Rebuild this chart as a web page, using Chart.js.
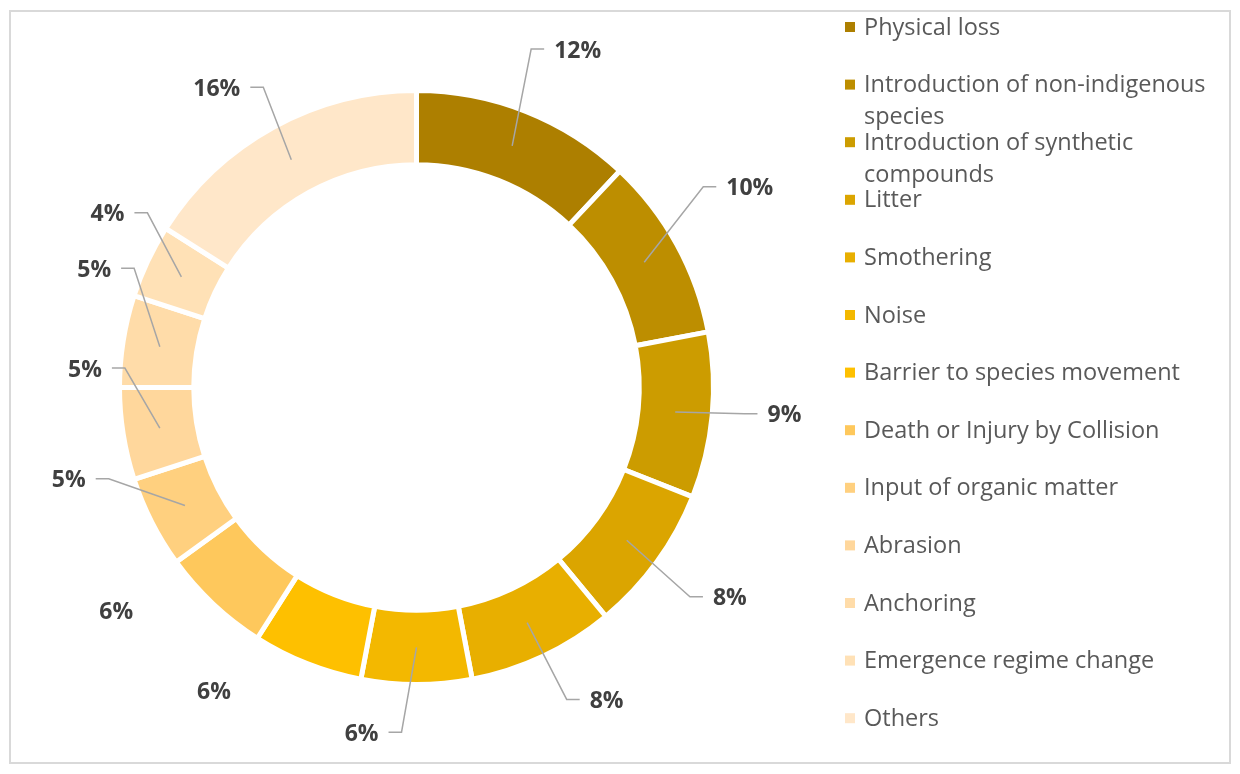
<!DOCTYPE html>
<html>
<head>
<meta charset="utf-8">
<script src="https://cdn.jsdelivr.net/npm/chart.js@4.4.1/dist/chart.umd.min.js"></script>
<style>
  html,body{margin:0;padding:0;background:#fff;}
  #wrap{position:relative;width:1240px;height:774px;}
  #frame{position:absolute;left:9px;top:10px;width:1218px;height:750px;border:2px solid #d9d9d9;}
  canvas{position:absolute;left:0;top:0;}
</style>
</head>
<body>
<div id="wrap">
  <div id="frame"></div>
  <canvas id="chart" width="1240" height="774"></canvas>
</div>
<script>
const labels = [
  "Physical loss",
  "Introduction of non-indigenous species",
  "Introduction of synthetic compounds",
  "Litter",
  "Smothering",
  "Noise",
  "Barrier to species movement",
  "Death or Injury by Collision",
  "Input of organic matter",
  "Abrasion",
  "Anchoring",
  "Emergence regime change",
  "Others"
];
const shares = [12, 10, 9, 8, 8, 6, 6, 6, 5, 5, 5, 4, 16];
const colors = [
  "#ad7f00", "#bd8e00", "#cc9c00", "#dba500", "#e8af00", "#f3b800", "#fec000",
  "#fec85c", "#ffd07f", "#ffd79c", "#ffdca9", "#ffe1b6", "#ffe7c9"
];

// label placement (Excel best-fit look): angle nudge in degrees, distance past the ring
const labelNudge = [4, -2, -1, -2, -6, 9, 12, 10, 12, 12, 11, 4, -5];
const labelGap = [76, 91, 72, 81, 70, 54, 69, 78, 63, 35, 46, 57, 62];
const hasLeader = [true, true, true, true, true, true, false, false, true, true, true, true, true];

const FONT = "'Open Sans', sans-serif";

const labelPlugin = {
  id: "pctLabels",
  afterDatasetsDraw(chart){
    const ctx = chart.ctx;
    const arcs = chart.getDatasetMeta(0).data;
    ctx.save();
    ctx.font = "bold 23px " + FONT;
    ctx.textBaseline = "middle";
    ctx.textAlign = "center";
    arcs.forEach((a, i) => {
      const mid = (a.startAngle + a.endAngle) / 2;
      const ang = mid + labelNudge[i] * Math.PI / 180;
      const r = a.outerRadius + labelGap[i];
      const lx = a.x + r * Math.cos(ang);
      const ly = a.y + r * Math.sin(ang);
      const txt = shares[i] + "%";
      const w = ctx.measureText(txt).width;

      if (hasLeader[i]) {
        const rm = (a.innerRadius + a.outerRadius) / 2;
        const sx = a.x + rm * Math.cos(mid);
        const sy = a.y + rm * Math.sin(mid);
        const right = lx > a.x;
        const edge = right ? lx - w / 2 : lx + w / 2;
        const dir = right ? -1 : 1;
        ctx.strokeStyle = "#a6a6a6";
        ctx.lineWidth = 1.5;
        ctx.beginPath();
        ctx.moveTo(sx, sy);
        ctx.lineTo(edge + dir * 23, ly - 2);
        ctx.lineTo(edge + dir * 10, ly - 2);
        ctx.stroke();
      }
      ctx.fillStyle = "#404040";
      ctx.fillText(txt, lx, ly);
    });
    ctx.restore();
  }
};

const legendPlugin = {
  id: "sideLegend",
  afterDraw(chart){
    const ctx = chart.ctx;
    ctx.save();
    ctx.font = "23.5px " + FONT;
    ctx.textBaseline = "middle";
    ctx.textAlign = "left";
    const x0 = 845, textX = 864, top = 27, step = 57.6, maxW = 355;
    labels.forEach((lab, i) => {
      const y = top + i * step;
      ctx.fillStyle = colors[i];
      ctx.fillRect(x0, y - 5, 10, 10);
      // wrap long names onto a second line
      const words = lab.split(" ");
      const lines = [];
      let cur = "";
      words.forEach(wd => {
        const t = cur ? cur + " " + wd : wd;
        if (ctx.measureText(t).width > maxW && cur) { lines.push(cur); cur = wd; }
        else cur = t;
      });
      lines.push(cur);
      ctx.fillStyle = "#595959";
      lines.forEach((ln, k) => ctx.fillText(ln, textX, y + 1 + k * 32));
    });
    ctx.restore();
  }
};

new Chart(document.getElementById("chart"), {
  type: "doughnut",
  data: {
    labels: labels,
    datasets: [{
      data: shares,
      backgroundColor: colors,
      borderColor: "#ffffff",
      borderWidth: 5,
      hoverOffset: 0
    }]
  },
  options: {
    responsive: false,
    animation: false,
    cutout: "75%",
    layout: { padding: { left: 117, top: 88, right: 524, bottom: 87 } },
    plugins: {
      legend: { display: false },
      tooltip: { enabled: false }
    }
  },
  plugins: [labelPlugin, legendPlugin]
});
</script>
</body>
</html>
